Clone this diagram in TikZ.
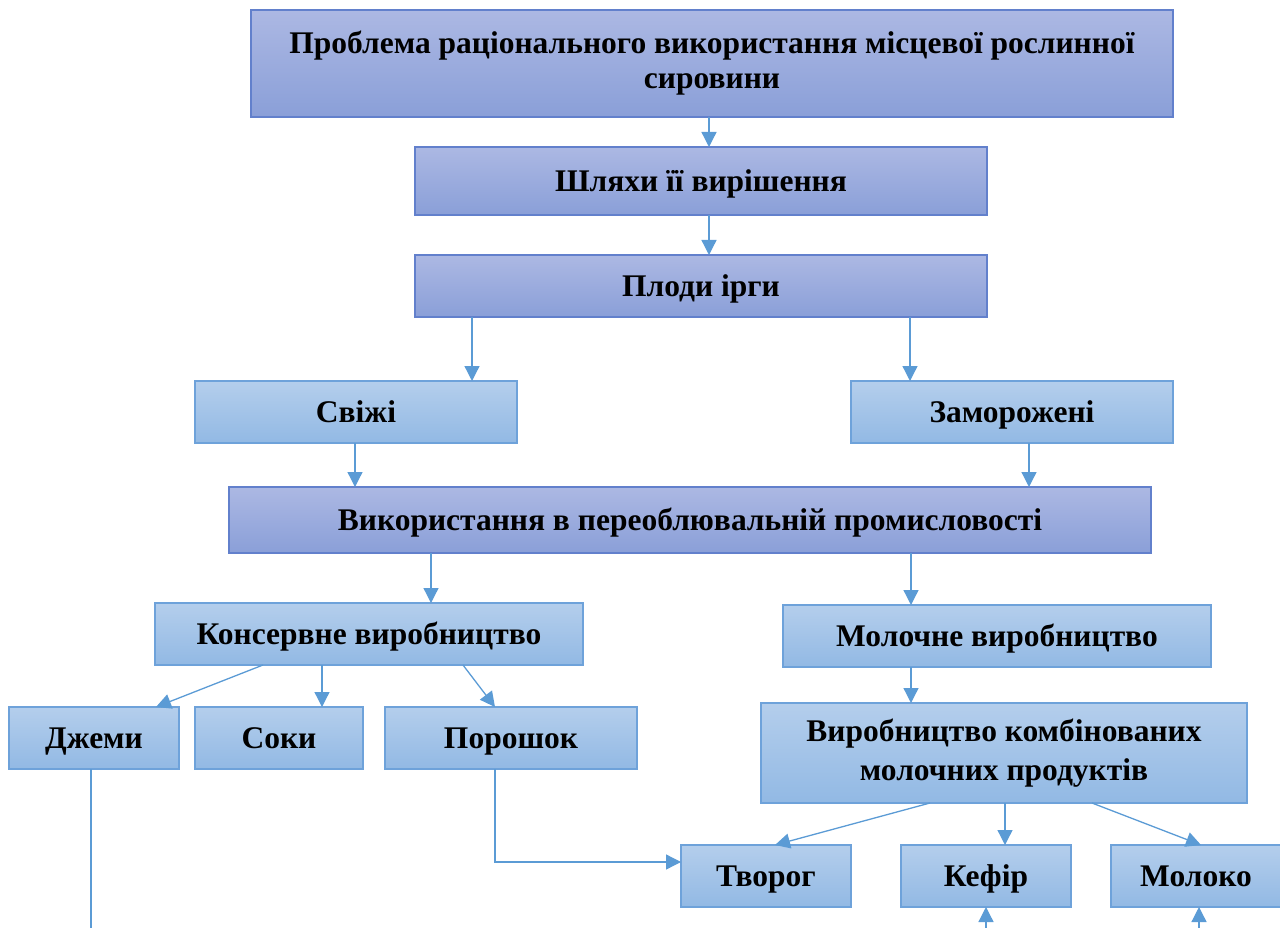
\documentclass[tikz,border=0pt]{standalone}
\usepackage{fontspec}
\setmainfont{Liberation Serif}
\usetikzlibrary{arrows.meta}

\definecolor{darkTop}{RGB}{172,184,227}
\definecolor{darkBottom}{RGB}{138,159,216}
\definecolor{darkEdge}{RGB}{98,128,204}
\definecolor{lightTop}{RGB}{180,206,236}
\definecolor{lightBottom}{RGB}{146,185,228}
\definecolor{lightEdge}{RGB}{110,162,218}
\definecolor{lineBlue}{RGB}{91,155,213}

\tikzset{
  boxtext/.style={font=\fontsize{31.5}{35}\selectfont\bfseries, align=center, inner sep=0pt, outer sep=0pt, anchor=north west, text height=28pt, text depth=7.5pt},
  twolines/.style={text height={}, text depth={}},
  darkbox/.style={boxtext, draw=darkEdge, line width=1.2pt, top color=darkTop, bottom color=darkBottom},
  lightbox/.style={boxtext, draw=lightEdge, line width=1.2pt, top color=lightTop, bottom color=lightBottom},
  arr/.style={draw=lineBlue, line width=1.3pt, -{Triangle[width=15pt,length=15pt]}},
  lin/.style={draw=lineBlue, line width=1.3pt},
}

\begin{document}
\begin{tikzpicture}[x=1pt,y=1pt,yscale=-1,xscale=1]
\useasboundingbox (0,0) rectangle (1280,928);

% Shapes: upper chain
\node [darkbox, twolines, minimum width=922pt, minimum height=107pt] (problema) at (251,10) {Проблема раціонального використання місцевої рослинної\\сировини};
\node [darkbox, minimum width=572pt, minimum height=68pt] (shlyakhy) at (415,147) {Шляхи її вирішення};
\node [darkbox, minimum width=572pt, minimum height=62pt] (plody) at (415,255) {Плоди ірги};
\node [lightbox, minimum width=322pt, minimum height=62pt] (svizhi) at (195,381) {Свіжі};
\node [lightbox, minimum width=322pt, minimum height=62pt] (zamorozheni) at (851,381) {Заморожені};
\node [darkbox, minimum width=922pt, minimum height=66pt] (vykorystannya) at (229,487) {Використання в переоблювальній промисловості};

% Shapes: two branches
\node [lightbox, minimum width=428pt, minimum height=62pt] (konservne) at (155,603) {Консервне виробництво};
\node [lightbox, minimum width=428pt, minimum height=62pt] (molochne) at (783,605) {Молочне виробництво};
\node [lightbox, minimum width=170pt, minimum height=62pt] (dzhemy) at (9,707) {Джеми};
\node [lightbox, minimum width=168pt, minimum height=62pt] (soky) at (195,707) {Соки};
\node [lightbox, minimum width=252pt, minimum height=62pt] (poroshok) at (385,707) {Порошок};
\node [lightbox, twolines, minimum width=486pt, minimum height=100pt, font=\fontsize{31.5}{39}\selectfont\bfseries] (kombinovani) at (761,703) {Виробництво комбінованих\\молочних продуктів};
\node [lightbox, minimum width=170pt, minimum height=62pt] (tvorog) at (681,845) {Творог};
\node [lightbox, minimum width=170pt, minimum height=62pt] (kefir) at (901,845) {Кефір};
\node [lightbox, minimum width=170pt, minimum height=62pt] (moloko) at (1111,845) {Молоко};

% free ends at the lower edge
\coordinate (dzhemyEnd) at (91,928);
\coordinate (kefirStart) at (986,928);
\coordinate (molokoStart) at (1199,928);

% Connectors
\draw [arr] (problema.south -| 709,0) -- (shlyakhy.north -| 709,0);
\draw [arr] (shlyakhy.south -| 709,0) -- (plody.north -| 709,0);
\draw [arr] (plody.south -| 472,0) -- (svizhi.north -| 472,0);
\draw [arr] (plody.south -| 910,0) -- (zamorozheni.north -| 910,0);
\draw [arr] (svizhi.south -| 355,0) -- (vykorystannya.north -| 355,0);
\draw [arr] (zamorozheni.south -| 1029,0) -- (vykorystannya.north -| 1029,0);
\draw [arr] (vykorystannya.south -| 431,0) -- (konservne.north -| 431,0);
\draw [arr] (vykorystannya.south -| 911,0) -- (molochne.north -| 911,0);
\draw [arr] (konservne.south -| 263,0) -- (dzhemy.north -| 156,0);
\draw [arr] (konservne.south -| 322,0) -- (soky.north -| 322,0);
\draw [arr] (konservne.south -| 463,0) -- (poroshok.north -| 495,0);
\draw [arr] (molochne.south -| 911,0) -- (kombinovani.north -| 911,0);
\draw [arr] (kombinovani.south -| 930,0) -- (tvorog.north -| 775,0);
\draw [arr] (kombinovani.south -| 1005,0) -- (kefir.north -| 1005,0);
\draw [arr] (kombinovani.south -| 1092,0) -- (moloko.north -| 1201,0);
\draw [arr] (poroshok.south -| 495,0) |- (tvorog.west |- 0,862);
\draw [lin] (dzhemy.south -| dzhemyEnd) -- (dzhemyEnd);
\draw [arr] (kefirStart) -- (kefir.south -| kefirStart);
\draw [arr] (molokoStart) -- (moloko.south -| molokoStart);

\end{tikzpicture}
\end{document}
